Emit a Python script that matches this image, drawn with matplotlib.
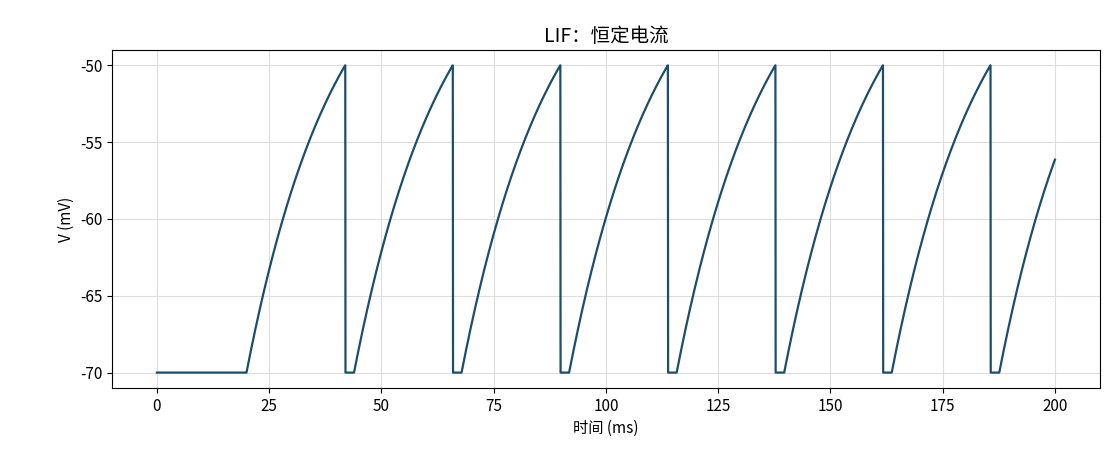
import numpy as np
import matplotlib
matplotlib.use("Agg")
import matplotlib.pyplot as plt

plt.rcParams['font.family'] = ['Noto Sans CJK SC', 'DejaVu Sans']
plt.rcParams['axes.unicode_minus'] = False

# model parameters
t_end = 200.0
dt = 0.05
v_rest = -70.0
v_reset = -70.0
v_th = -50.0
tau_m = 20.0
RI = 30.0
t_on = 20.0
t_ref = 2.0

t = np.arange(0, t_end + dt / 2, dt)
v = np.full_like(t, v_rest)
ref_until = -1.0
for i in range(1, len(t)):
    drive = RI if t[i] >= t_on else 0.0
    if t[i] < ref_until:
        v[i] = v_reset
        continue
    vinf = v_rest + drive
    v[i] = vinf + (v[i-1] - vinf) * np.exp(-dt / tau_m)
    if v[i] >= v_th:
        v[i] = v_th
        ref_until = t[i] + t_ref
        # next step drops to reset
fig = plt.figure(figsize=(11.2, 4.76), dpi=100)
ax = fig.add_axes([0.1, 0.185, 0.882, 0.71])
# insert vertical drops after spikes
vv = v.copy()
for i in range(1, len(vv)):
    if v[i-1] == v_th and v[i] != v_th:
        vv[i] = v_reset
ax.plot(t, vv, color='#1b4e6d', lw=1.6)
ax.set_xlim(-10, 210)
ax.set_ylim(-71, -49)
ax.set_yticks([-50, -55, -60, -65, -70])
ax.grid(True, color='#dddddd', lw=0.8)
ax.set_axisbelow(True)
ax.set_title('LIF：恒定电流', fontsize=14)
ax.set_xlabel('时间 (ms)', fontsize=11)
ax.set_ylabel('V (mV)', fontsize=11)
ax.tick_params(labelsize=11)
fig.savefig('out.png', dpi=100)
